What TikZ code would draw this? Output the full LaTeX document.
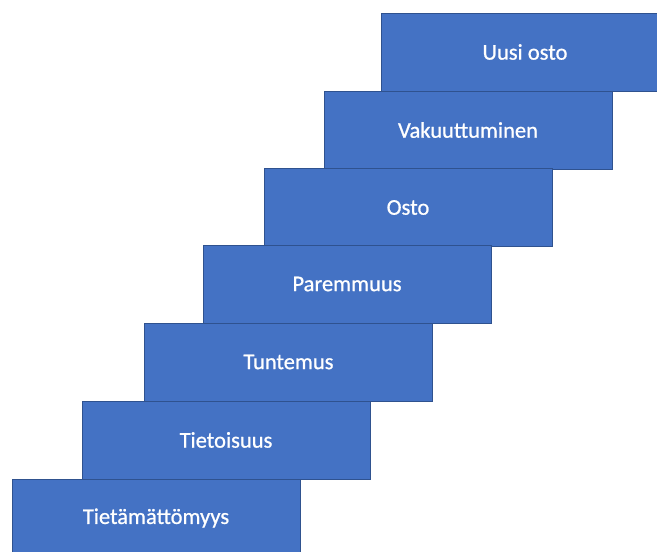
\documentclass[tikz,border=0pt]{standalone}
\usepackage{fontspec}
\setmainfont{Carlito}
\newfontfamily\stepfont{Carlito}[FakeBold=0.8]
\definecolor{stepfill}{HTML}{4472C4}
\definecolor{stepline}{HTML}{2F528F}
\begin{document}
\begin{tikzpicture}[x=1pt,y=1pt,
  stepbox/.style={draw=stepline, line width=0.9pt, fill=stepfill, minimum width=288pt, minimum height=78pt,
    inner sep=0pt, outer sep=0pt, text=white, font=\stepfont\fontsize{22.5pt}{26pt}\selectfont}]
\useasboundingbox (0,0) rectangle (657,-552);
\clip (0,0) rectangle (657,-552);
\node[stepbox] (s1) at (525,-52) {Uusi osto};
\node[stepbox] (s2) at (468,-130) {Vakuuttuminen};
\node[stepbox] (s3) at (408,-207.5) {Osto};
\node[stepbox] (s4) at (347,-284) {Paremmuus};
\node[stepbox] (s5) at (288.5,-362) {Tuntemus};
\node[stepbox] (s6) at (226,-440) {Tietoisuus};
\node[stepbox] (s7) at (156,-518) {Tietämättömyys};
\end{tikzpicture}
\end{document}
